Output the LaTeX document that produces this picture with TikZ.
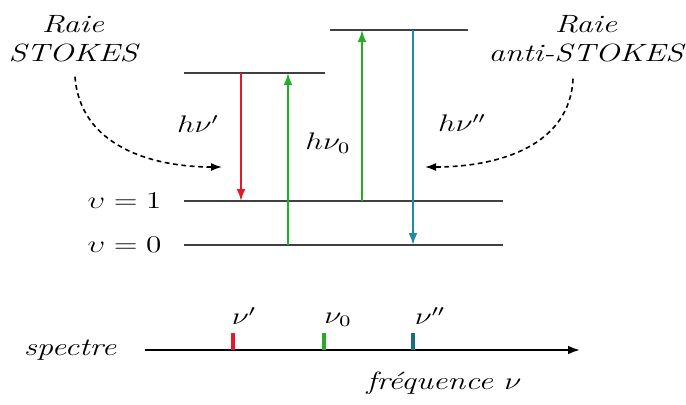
\documentclass[tikz,border=0pt]{standalone}
\usepackage{fontspec}
\usepackage{tikz}
\usetikzlibrary{arrows.meta, calc}
\definecolor{myred}{rgb}{0.90, 0.10, 0.15}
\definecolor{mygreen}{rgb}{0.15, 0.68, 0.15}
\definecolor{myteal}{rgb}{0.12, 0.55, 0.62}
\definecolor{mygray}{rgb}{0.25, 0.25, 0.25}

\begin{document}
\begin{tikzpicture}[x=0.5pt, y=-0.5pt,
    lbl/.style={font=\fontsize{11.5}{14.5}\selectfont, xscale=1.3, align=center, inner sep=0pt},
    ital/.style={lbl, font=\itshape\fontsize{12.5}{14.5}\selectfont},
    level/.style={mygray, line width=1pt},
    trans/.style={-{Latex[length=6pt, width=4.4pt]}, line width=0.9pt}]
            \useasboundingbox (0,0) rectangle (686,404);

            \coordinate (haut1a) at (184,73);
            \coordinate (haut1b) at (325,73);
            \coordinate (haut2a) at (330,30);
            \coordinate (haut2b) at (468,30);
            \coordinate (un-a) at (184,201);
            \coordinate (un-b) at (503,201);
            \coordinate (zero-a) at (184,245);
            \coordinate (zero-b) at (503,245);
            \draw[level] (haut1a) -- (haut1b);
            \draw[level] (haut2a) -- (haut2b);
            \draw[level] (un-a) -- (un-b);
            \draw[level] (zero-a) -- (zero-b);
            \node[lbl, anchor=east] (vun) at (162,201) {$\upsilon = 1$};
            \node[lbl, anchor=east] (vzero) at (162,245) {$\upsilon = 0$};

            \draw[trans, myred] (241,73) -- (241,201);
            \draw[trans, mygreen] (288,245) -- (288,73);
            \draw[trans, mygreen] (362,201) -- (362,30);
            \draw[trans, myteal] (413,30) -- (413,245);
            \node[lbl] (hnu1) at (198,124) {$h\nu'$};
            \node[lbl] (hnu0) at (328,143) {$h\nu_0$};
            \node[lbl] (hnu2) at (462,123) {$h\nu''$};

            \node[ital] (stokes) at (73,39) {Raie\\STOKES};
            \node[ital] (astokes) at (586,39) {Raie\\anti-STOKES};
            \coordinate (fs) at (222,167);
            \coordinate (fa) at (425,167);
            \draw[-{Latex[length=5.5pt, width=4pt]}, dashed, dash pattern=on 2.4pt off 1.8pt, line width=0.8pt] ($(stokes.south)+(2,14)$) .. controls (80,145) and (150,167) .. (fs);
            \draw[-{Latex[length=5.5pt, width=4pt]}, dashed, dash pattern=on 2.4pt off 1.8pt, line width=0.8pt] ($(astokes.south)+(-13,16)$) .. controls (570,145) and (500,167) .. (fa);

            \node[ital] (spectre) at (70,350) {spectre};
            \coordinate (axe0) at (145,350);
            \coordinate (axe1) at (580,350);
            \draw[-{Latex[length=6pt, width=4.4pt]}, line width=1pt] (axe0) -- (axe1);
            \draw[myred, line width=1.6pt] (233,350) -- (233,333);
            \draw[mygreen, line width=1.6pt] (324,350) -- (324,333);
            \draw[myteal!80!black, line width=1.6pt] (413,350) -- (413,333);
            \node[lbl] (nu1) at (244,316) {$\nu'$};
            \node[lbl] (nu0) at (338,320) {$\nu_0$};
            \node[lbl] (nu2) at (430,316) {$\nu''$};
            \node[ital] (freq) at (444,383) {fréquence $\nu$};
        \end{tikzpicture}
\end{document}
